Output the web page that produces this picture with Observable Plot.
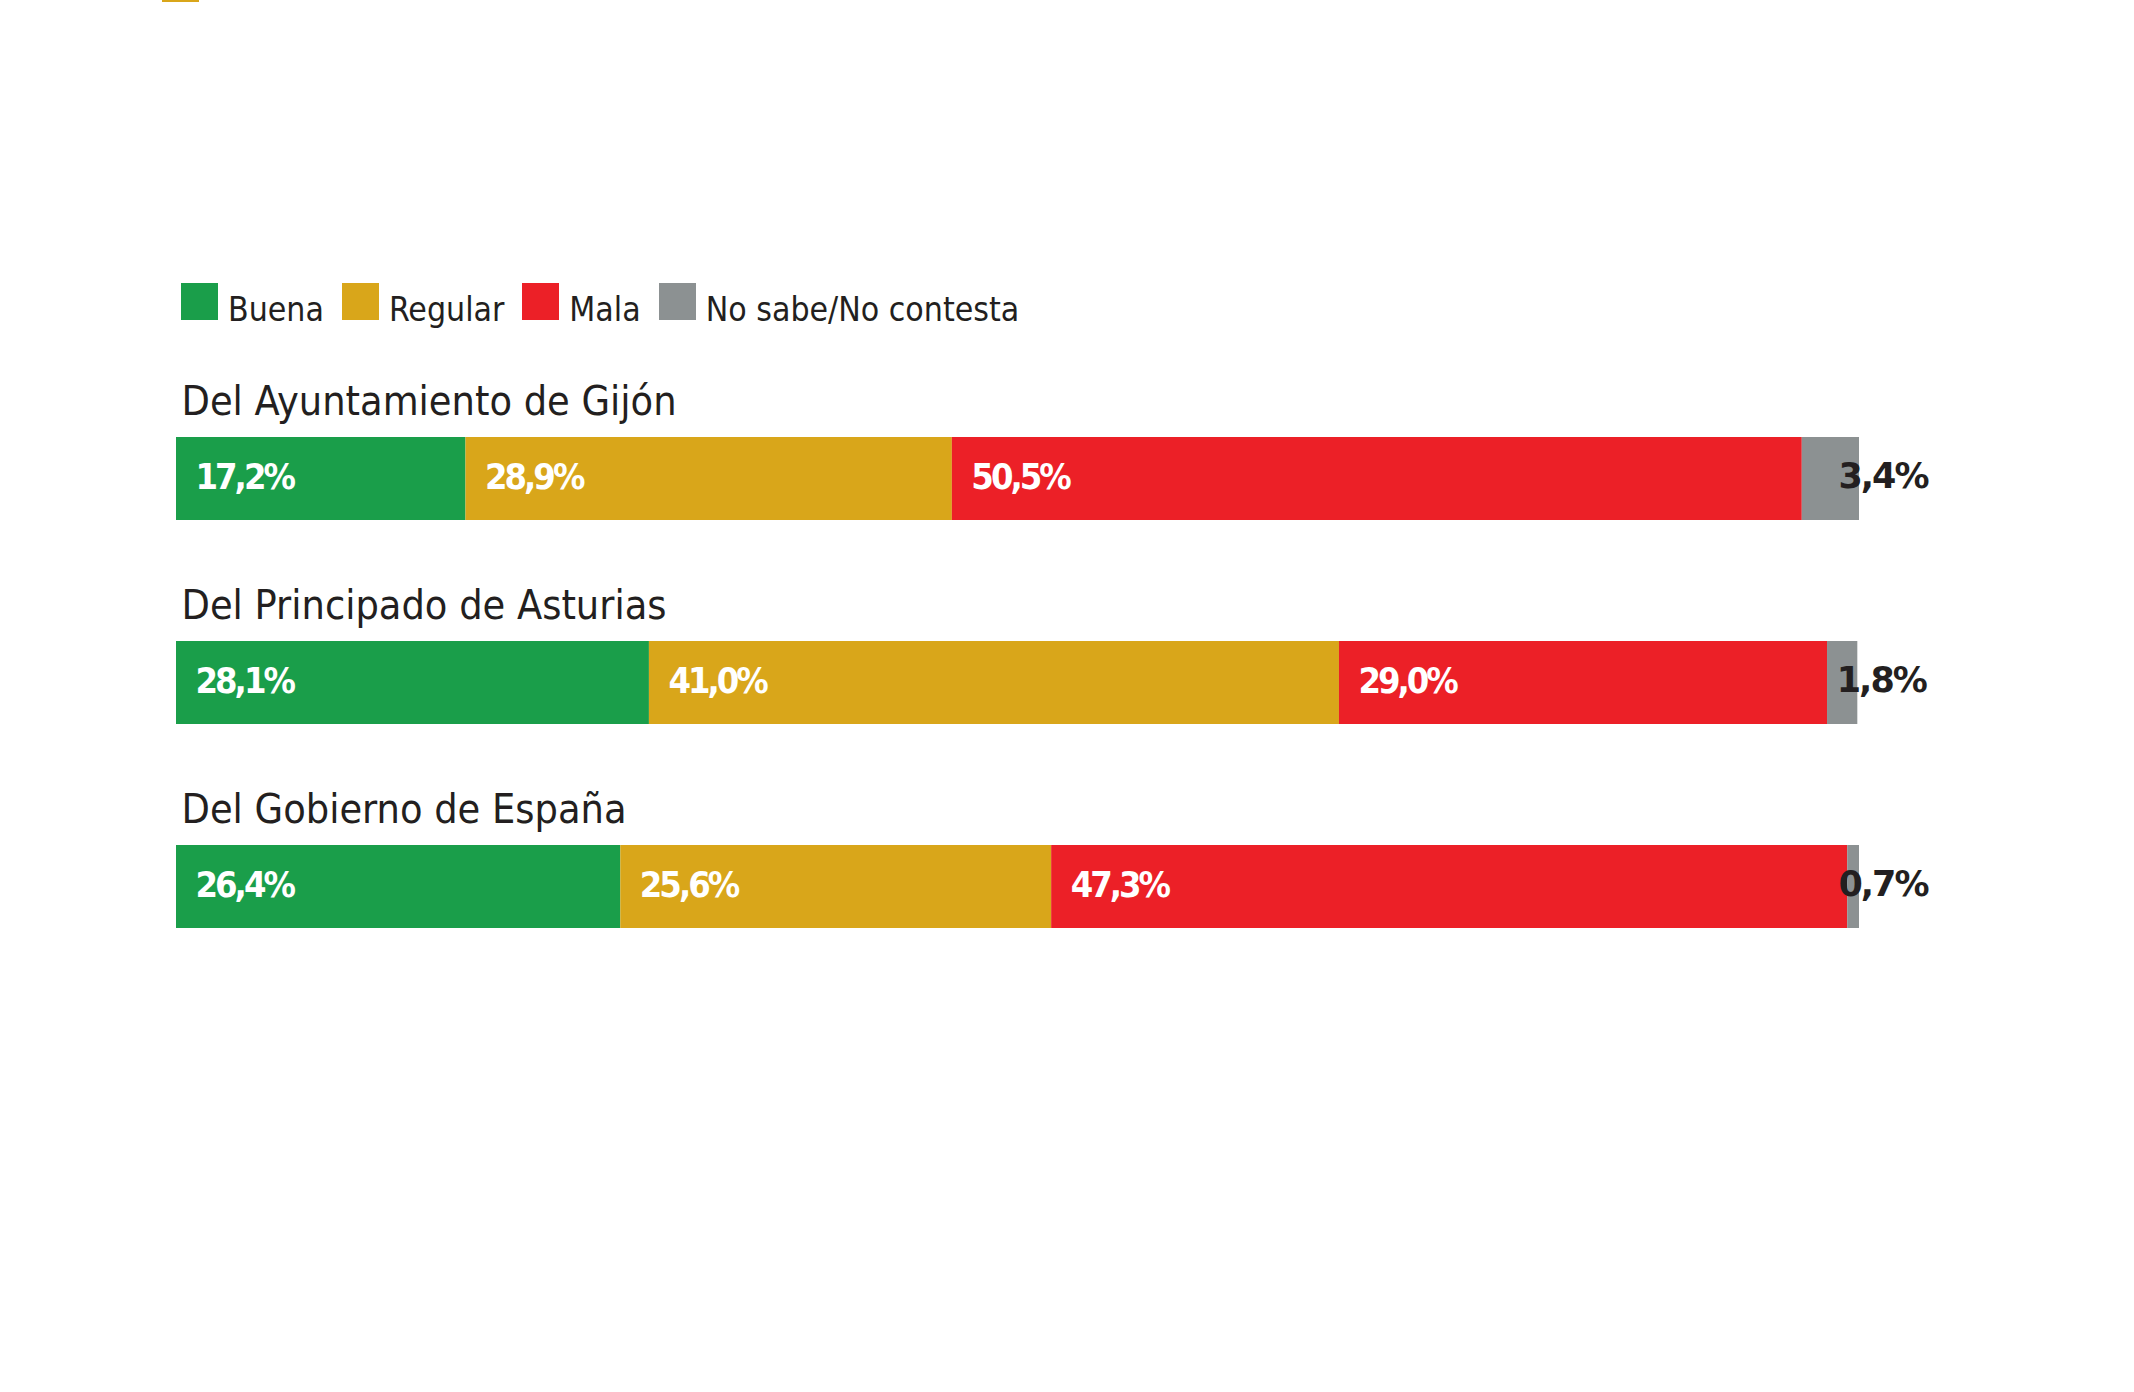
<!DOCTYPE html>
<html>
<head>
<meta charset="utf-8">
<script src="https://cdn.jsdelivr.net/npm/d3@7"></script>
<script src="https://cdn.jsdelivr.net/npm/@observablehq/plot@0.6"></script>
<style>
  html, body { margin: 0; padding: 0; background: #fff; }
  body { width: 2134px; height: 1392px; overflow: hidden; position: relative; }
  #topmark { position: absolute; left: 162px; top: 0; width: 37px; height: 2px; background: #d9a61a; }
  #legend { height: 340px; box-sizing: border-box; padding-top: 283px; padding-left: 181px;
            display: flex; align-items: flex-start; gap: 18px;
            font-family: "DejaVu Sans Condensed", "DejaVu Sans", sans-serif; font-stretch: condensed;
            font-size: 33.5px; color: #231f20; }
  .item { display: flex; align-items: flex-end; gap: 10px; }
  .sw { width: 37px; height: 37px; }
  .item span { line-height: 1; position: relative; top: 6px; }
  #chart svg { display: block; }
</style>
</head>
<body>
<div id="topmark"></div>
<div id="legend"></div>
<div id="chart"></div>
<script>
const categories = ["Del Ayuntamiento de Gijón", "Del Principado de Asturias", "Del Gobierno de España"];
const answers = ["Buena", "Regular", "Mala", "No sabe/No contesta"];
const colors = ["#1a9e4a", "#d9a61a", "#ec2027", "#8c9192"];
const buena = [17.2, 28.1, 26.4];
const regular = [28.9, 41.0, 25.6];
const mala = [50.5, 29.0, 47.3];
const nsnc = [3.4, 1.8, 0.7];

const series = [buena, regular, mala, nsnc];
const rows = [];
categories.forEach((c, i) => answers.forEach((a, j) => rows.push({cat: c, answer: a, value: series[j][i]})));
const fmt = v => d3.format(".1f")(v).replace(".", ",") + "%";
const NS = answers[3];

// Legend
const leg = document.getElementById("legend");
answers.forEach((a, j) => {
  const it = document.createElement("div");
  it.className = "item";
  const sw = document.createElement("div");
  sw.className = "sw";
  sw.style.background = colors[j];
  const t = document.createElement("span");
  t.textContent = a;
  it.append(sw, t);
  leg.append(it);
});

const stackOpts = {x: "value", y: "cat", z: "answer", order: answers};
const condFont = "'DejaVu Sans Condensed', 'DejaVu Sans', sans-serif";

const chart = Plot.plot({
  width: 2134,
  height: 1052,
  marginLeft: 176,
  marginRight: 275,
  marginTop: 0,
  marginBottom: 0,
  x: {domain: [0, 100], axis: null},
  y: {domain: categories, range: [37, 649], paddingInner: 0.593, paddingOuter: 0.2965, axis: null},
  color: {domain: answers, range: colors},
  style: {fontFamily: "'DejaVu Sans', sans-serif", background: "#fff"},
  marks: [
    Plot.barX(rows, Plot.stackX({...stackOpts, fill: "answer"})),
    Plot.text(rows, Plot.stackX1({
      ...stackOpts,
      text: d => d.answer !== NS ? fmt(d.value) : null,
      textAnchor: "start", dx: 19, dy: -2, fill: "#fff", fontWeight: "bold", fontSize: 36,
      fontFamily: condFont, fontStretch: "condensed", lineAnchor: "middle",
      className: "inlabel"
    })),
    Plot.text(rows, Plot.stackX2({
      ...stackOpts,
      text: d => d.answer === NS ? fmt(d.value) : null,
      textAnchor: "end", dx: 68, dy: -2, fill: "#231f20", fontWeight: "bold", fontSize: 35,
      fontFamily: "'DejaVu Sans', sans-serif", lineAnchor: "middle",
      className: "outlabel"
    })),
    Plot.text(categories, {
      y: d => d, text: d => d, frameAnchor: "left", textAnchor: "start",
      lineAnchor: "bottom", dx: 5, dy: -64, fontSize: 41, fill: "#231f20",
      fontFamily: condFont, fontStretch: "condensed"
    })
  ]
});
chart.querySelectorAll(".inlabel text").forEach(t => t.style.letterSpacing = "-3px");
chart.querySelectorAll(".outlabel text").forEach(t => t.style.letterSpacing = "-2px");
document.getElementById("chart").append(chart);
</script>
</body>
</html>
